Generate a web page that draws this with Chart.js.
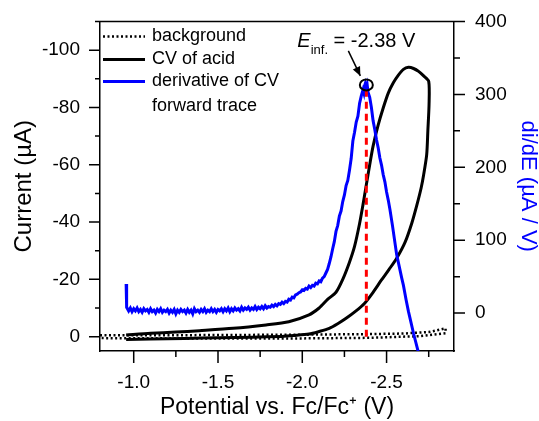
<!DOCTYPE html>
<html>
<head>
<meta charset="utf-8">
<script src="https://cdn.jsdelivr.net/npm/chart.js@4.4.1/dist/chart.umd.min.js"></script>
<style>
  html, body { margin: 0; padding: 0; background: #fff; }
  #c { display: block; }
</style>
</head>
<body>
<canvas id="c" width="539" height="421" style="width:539px;height:421px"></canvas>
<script>
// ---------------- DATA ----------------
// Background CV (dotted): forward and reverse traces, potential (V) vs current (µA)
const bgPotential = [-0.80, -1.20, -1.60, -2.00, -2.40, -2.60, -2.75, -2.85, -2.85, -2.70, -2.40, -2.00, -1.60, -1.20, -0.80];
const bgCurrent   = [-0.5, -0.5, -0.6, -0.7, -0.9, -1.1, -1.6, -2.9, -1.2, -0.2, 0.4, 0.6, 0.6, 0.6, 0.5];

// CV of acid: forward trace then reverse trace
const cvPotential = [
  -0.955, -1.10, -1.25, -1.39, -1.59, -1.785, -1.92, -2.04, -2.10, -2.15, -2.20, -2.24, -2.28, -2.31, -2.34,
  -2.36, -2.38, -2.40, -2.42, -2.45, -2.48, -2.51, -2.54, -2.57, -2.60, -2.63, -2.66, -2.69, -2.72, -2.75,
  -2.752, -2.745, -2.738, -2.72, -2.705, -2.68, -2.65, -2.61, -2.56, -2.515, -2.47, -2.42, -2.37, -2.315,
  -2.26, -2.21, -2.16, -2.10, -2.04, -1.95, -1.88, -1.70, -1.50, -1.30, -1.10, -0.955
];
const cvCurrent = [
  -0.6, -1.2, -1.6, -2.1, -2.9, -4.1, -5.2, -7.6, -10.0, -13.0, -15.5, -20.0, -26.0, -31.5, -39.5,
  -46.0, -53.0, -60.0, -66.5, -73.8, -79.8, -85.0, -88.6, -91.3, -93.3, -94.0, -93.6, -92.6, -91.0, -89.1,
  -81.0, -72.0, -63.5, -56.5, -51.9, -46.0, -39.7, -33.0, -27.4, -23.5, -19.8, -15.5, -11.7, -8.8,
  -6.4, -4.5, -2.9, -1.8, -0.9, -0.4, -0.1, 0.2, 0.4, 0.6, 0.8, 1.0
];

// Derivative of CV forward trace (µA / V), right axis
const dPotential = [
  -0.955, -0.958,
  -0.97, -0.98, -0.99, -1.00, -1.01, -1.02, -1.03, -1.04, -1.05, -1.06, -1.07, -1.08, -1.09, -1.10,
  -1.11, -1.12, -1.13, -1.14, -1.15, -1.16, -1.17, -1.18, -1.19, -1.20, -1.21, -1.22, -1.23, -1.24, -1.25,
  -1.26, -1.27, -1.28, -1.29, -1.30, -1.31, -1.32, -1.33, -1.34, -1.35, -1.36, -1.37, -1.38, -1.39, -1.40,
  -1.41, -1.42, -1.43, -1.44, -1.45, -1.46, -1.47, -1.48, -1.49, -1.50, -1.51, -1.52, -1.53, -1.54, -1.55,
  -1.56, -1.57, -1.58, -1.59, -1.60, -1.61, -1.62, -1.63, -1.64, -1.65, -1.66, -1.67, -1.68, -1.69, -1.70,
  -1.71, -1.72, -1.73, -1.74, -1.75, -1.76, -1.77, -1.78, -1.79, -1.80, -1.81, -1.82, -1.83, -1.84, -1.85,
  -1.86, -1.87, -1.88, -1.89, -1.90, -1.91, -1.92, -1.93, -1.94, -1.95, -1.96, -1.97, -1.98, -1.99, -2.00,
  -2.01, -2.02, -2.03, -2.04, -2.05, -2.06, -2.07, -2.08, -2.09, -2.10, -2.11, -2.12, -2.13, -2.14, -2.15,
  -2.16, -2.17, -2.18, -2.19, -2.20, -2.21, -2.22, -2.23, -2.24, -2.25, -2.26, -2.27, -2.28, -2.29, -2.30,
  -2.31, -2.32, -2.33, -2.34, -2.35, -2.36, -2.365, -2.37, -2.374, -2.38, -2.385, -2.39, -2.40, -2.41, -2.42,
  -2.43, -2.44, -2.45, -2.46, -2.47, -2.48, -2.49, -2.50, -2.51, -2.52, -2.535, -2.55, -2.56, -2.575, -2.59,
  -2.60, -2.616, -2.63, -2.64, -2.66, -2.69
];
const dValue = [
  40, 8,
  3, 7, 2, 6, 3, 7, 2, 5, 1, 6, 3, 5, 1, 6,
  2, 4, 0, 5, 2, 6, 1, 4, 2, 5, 0, 4, 1, 5, -1,
  4, 1, 5, 2, 4, 0, 5, 1, 4, -1, 6, 2, 4, 1, 5,
  2, 6, 1, 4, 2, 6, 2, 5, 1, 5, 3, 6, 2, 6, 3,
  7, 2, 6, 3, 7, 4, 6, 3, 8, 4, 7, 5, 8, 4, 7,
  5, 9, 5, 8, 6, 9, 6, 10, 7, 9, 8, 11, 9, 12, 10,
  13, 12, 15, 13, 16, 15, 19, 18, 22, 21, 25, 26, 28, 29, 32,
  31, 34, 33, 37, 35, 38, 37, 41, 40, 44, 43, 48, 50, 55, 60,
  68, 77, 88, 98, 112, 120, 133, 140, 153, 162, 175, 182, 196, 212, 236,
  248, 262, 270, 288, 298, 306, 302, 312, 315, 309, 313, 303, 296, 282, 264,
  252, 238, 227, 213, 203, 190, 180, 166, 155, 142, 120, 96, 80, 64, 48,
  38, 18, 2, -8, -28, -55
];

// Inflection point marker
const EINF = -2.38;          // V
const EINF_PEAK = 313;       // µA/V (derivative peak, right axis)
const EINF_LINE_TOP = -86;   // µA (top of red dashed guide on left axis)

// Tick values and labels
const xMajorTicks = [-1.0, -1.5, -2.0, -2.5];
const xMinorTicks = [-1.25, -1.75, -2.25, -2.75];
const yMajorTicks = [-100, -80, -60, -40, -20, 0];
const yMinorTicks = [-90, -70, -50, -30, -10];
const y2MajorTicks = [0, 100, 200, 300, 400];
const y2MinorTicks = [50, 150, 250, 350];

// Text
const seriesLabels = ['background', 'CV of acid', ['derivative of CV', 'forward trace']];
const xTitle = 'Potential vs. Fc/Fc\u207A (V)';
const yTitle = 'Current (\u00B5A)';
const y2Title = 'di/dE (\u00B5A / V)';

// ---------------- CHART ----------------
const FONT = "'Liberation Sans', Arial, sans-serif";
const BLUE = '#0000ff';

function pts(xs, ys) { return xs.map((x, i) => ({ x: x, y: ys[i] })); }
function setTicks(majors, minors) {
  return function (scale) {
    const all = majors.concat(minors).slice().sort((a, b) => a - b);
    scale.ticks = all.map(v => ({ value: v }));
  };
}
function labelIf(majors, fmt) {
  return function (value) {
    return majors.some(m => Math.abs(m - value) < 1e-9) ? fmt(value) : '';
  };
}
function fitBox(prop, size) {
  return function (s) {
    s[prop] = size;
    s.paddingTop = 0; s.paddingBottom = 0; s.paddingLeft = 0; s.paddingRight = 0;
  };
}

const framePlugin = {
  id: 'frame',
  afterDraw(chart) {
    const { ctx, chartArea: a, scales } = chart;
    ctx.save();
    ctx.strokeStyle = '#000';
    ctx.lineWidth = 1.5;
    ctx.beginPath();
    // top frame line
    ctx.moveTo(a.left - 5, a.top); ctx.lineTo(a.right + 11, a.top);
    // x ticks
    xMajorTicks.forEach(v => { const p = scales.x.getPixelForValue(v); ctx.moveTo(p, a.bottom); ctx.lineTo(p, a.bottom + 12); });
    xMinorTicks.forEach(v => { const p = scales.x.getPixelForValue(v); ctx.moveTo(p, a.bottom); ctx.lineTo(p, a.bottom + 6); });
    // left ticks
    yMajorTicks.forEach(v => { const p = scales.y.getPixelForValue(v); ctx.moveTo(a.left, p); ctx.lineTo(a.left - 11, p); });
    yMinorTicks.forEach(v => { const p = scales.y.getPixelForValue(v); ctx.moveTo(a.left, p); ctx.lineTo(a.left - 5, p); });
    // right ticks
    y2MajorTicks.forEach(v => { const p = scales.y2.getPixelForValue(v); ctx.moveTo(a.right, p); ctx.lineTo(a.right + 11, p); });
    y2MinorTicks.forEach(v => { const p = scales.y2.getPixelForValue(v); ctx.moveTo(a.right, p); ctx.lineTo(a.right + 6, p); });
    ctx.stroke();
    ctx.restore();
  }
};

const legendPlugin = {
  id: 'insideLegend',
  afterDraw(chart) {
    const { ctx, chartArea: a } = chart;
    const items = [
      { ds: chart.data.datasets[3], rows: [seriesLabels[0]], y: a.top + 15 },
      { ds: chart.data.datasets[2], rows: [seriesLabels[1]], y: a.top + 38 },
      { ds: chart.data.datasets[1], rows: seriesLabels[2], y: a.top + 60 }
    ];
    ctx.save();
    ctx.font = '18px ' + FONT;
    ctx.fillStyle = '#000';
    ctx.textBaseline = 'middle';
    ctx.textAlign = 'left';
    items.forEach(it => {
      ctx.beginPath();
      ctx.strokeStyle = it.ds.borderColor;
      ctx.lineWidth = it.ds.borderWidth;
      ctx.setLineDash(it.ds.borderDash || []);
      ctx.moveTo(a.left + 3, it.y);
      ctx.lineTo(a.left + 45, it.y);
      ctx.stroke();
      ctx.setLineDash([]);
      it.rows.forEach((t, i) => ctx.fillText(t, a.left + 52, it.y + i * 24.5));
    });
    ctx.restore();
  }
};

const annotationPlugin = {
  id: 'einf',
  afterDraw(chart) {
    const { ctx, scales } = chart;
    const cx = scales.x.getPixelForValue(EINF);
    const cy = scales.y2.getPixelForValue(EINF_PEAK);
    ctx.save();
    // circle
    ctx.strokeStyle = '#000';
    ctx.lineWidth = 2;
    ctx.beginPath();
    ctx.ellipse(cx, cy, 6.5, 5.5, 0, 0, Math.PI * 2);
    ctx.stroke();
    // arrow
    const x0 = cx - 18, y0 = cy - 34, x1 = cx - 6, y1 = cy - 9;
    ctx.lineWidth = 1.5;
    ctx.beginPath(); ctx.moveTo(x0, y0); ctx.lineTo(x1, y1); ctx.stroke();
    const ang = Math.atan2(y1 - y0, x1 - x0);
    const hl = 9, hw = 4;
    ctx.fillStyle = '#000';
    ctx.beginPath();
    ctx.moveTo(x1, y1);
    ctx.lineTo(x1 - hl * Math.cos(ang) + hw * Math.sin(ang), y1 - hl * Math.sin(ang) - hw * Math.cos(ang));
    ctx.lineTo(x1 - hl * Math.cos(ang) - hw * Math.sin(ang), y1 - hl * Math.sin(ang) + hw * Math.cos(ang));
    ctx.closePath(); ctx.fill();
    // text
    const tx = cx - 69, ty = cy - 38;
    ctx.textBaseline = 'alphabetic';
    ctx.textAlign = 'left';
    ctx.font = 'italic 20px ' + FONT;
    ctx.fillText('E', tx, ty);
    let w = ctx.measureText('E').width;
    ctx.font = '13px ' + FONT;
    ctx.fillText('inf.', tx + w, ty + 7);
    w += ctx.measureText('inf.').width;
    ctx.font = '20px ' + FONT;
    ctx.fillText(' = ' + EINF.toFixed(2) + ' V', tx + w, ty);
    ctx.restore();
  }
};

new Chart(document.getElementById('c'), {
  type: 'line',
  data: {
    datasets: [
      { label: 'Einf', data: pts([EINF, EINF], [0, EINF_LINE_TOP]), yAxisID: 'y',
        borderColor: '#ff0000', borderWidth: 3, borderDash: [7, 5], order: 0 },
      { label: seriesLabels[2].join(' '), data: pts(dPotential, dValue), yAxisID: 'y2',
        borderColor: BLUE, borderWidth: 3, order: 1 },
      { label: seriesLabels[1], data: pts(cvPotential, cvCurrent), yAxisID: 'y',
        borderColor: '#000', borderWidth: 3, tension: 0.25, order: 2 },
      { label: seriesLabels[0], data: pts(bgPotential, bgCurrent), yAxisID: 'y',
        borderColor: '#000', borderWidth: 2.5, borderDash: [2, 2.5], order: 3 }
    ]
  },
  options: {
    responsive: false,
    animation: false,
    devicePixelRatio: 1,
    layout: { padding: { top: 21.5, left: 0, right: 0, bottom: 0 } },
    elements: { point: { radius: 0, hoverRadius: 0 }, line: { tension: 0, fill: false } },
    plugins: { legend: { display: false }, tooltip: { enabled: false } },
    scales: {
      x: {
        type: 'linear', min: -2.9, max: -0.8, reverse: true,
        afterBuildTicks: setTicks(xMajorTicks, xMinorTicks),
        afterFit: fitBox('height', 70),
        grid: { display: false, drawTicks: false },
        border: { display: true, color: '#000', width: 1.5 },
        ticks: { autoSkip: false, maxRotation: 0, padding: 20, color: '#000',
                 font: { family: FONT, size: 19 },
                 callback: labelIf(xMajorTicks, v => v.toFixed(1)) },
        title: { display: true, text: xTitle, color: '#000', font: { family: FONT, size: 23 },
                 padding: { top: 0, bottom: 0 } }
      },
      y: {
        type: 'linear', position: 'left', min: -110, max: 5, reverse: true,
        afterBuildTicks: setTicks(yMajorTicks, yMinorTicks),
        afterFit: fitBox('width', 100),
        grid: { display: false, drawTicks: false },
        border: { display: true, color: '#000', width: 1.5 },
        ticks: { autoSkip: false, padding: 20, color: '#000', font: { family: FONT, size: 19 },
                 callback: labelIf(yMajorTicks, v => String(v)) },
        title: { display: true, text: yTitle, color: '#000', font: { family: FONT, size: 24 },
                 padding: { top: 10, bottom: 0 } }
      },
      y2: {
        type: 'linear', position: 'right', min: -52, max: 400,
        afterBuildTicks: setTicks(y2MajorTicks, y2MinorTicks),
        afterFit: fitBox('width', 85),
        grid: { display: false, drawTicks: false },
        border: { display: true, color: '#000', width: 1.5 },
        ticks: { autoSkip: false, padding: 21, color: '#000', font: { family: FONT, size: 19 },
                 callback: labelIf(y2MajorTicks, v => String(v)) },
        title: { display: true, text: y2Title, color: BLUE, font: { family: FONT, size: 22, lineHeight: 1 },
                 padding: { top: 0, bottom: 0 } }
      }
    }
  },
  plugins: [framePlugin, legendPlugin, annotationPlugin]
});
</script>
</body>
</html>
